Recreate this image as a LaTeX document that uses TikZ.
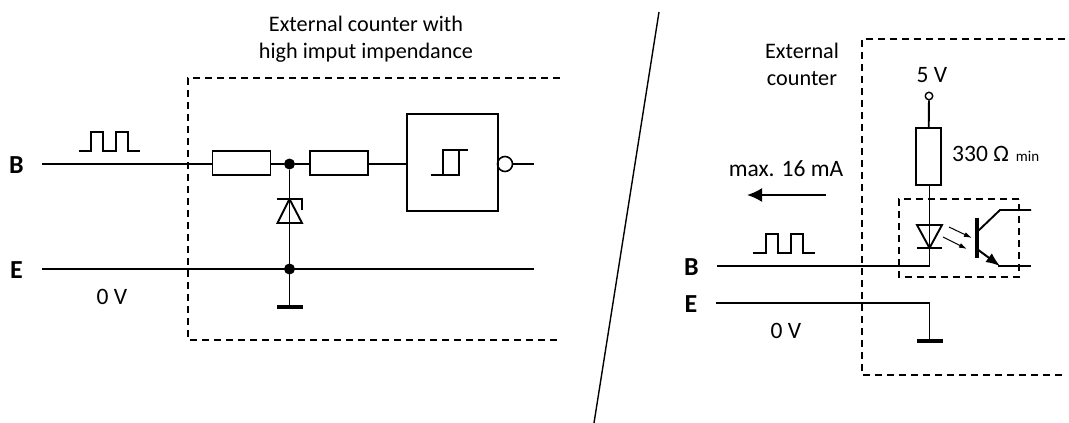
\documentclass[tikz,border=0pt]{standalone}
\usepackage{fontspec}
\setmainfont{Carlito}
\usetikzlibrary{arrows.meta}
\tikzset{
  wire/.style={line width=1.9pt},
  thin wire/.style={line width=1.6pt},
  dashbox/.style={line width=1.6pt,dash pattern=on 7pt off 5pt},
  res/.style={draw,line width=1.9pt,rectangle,inner sep=0pt,fill=white},
  dot/.style={circle,fill=black,inner sep=0pt,minimum size=11pt},
  lbl/.style={inner sep=0pt,font=\fontsize{22.2}{27}\selectfont,align=center},
  lblb/.style={inner sep=0pt,font=\fontsize{23.5}{27}\selectfont,align=center},
  term/.style={inner sep=0pt,font=\fontsize{26}{28}\selectfont\bfseries},
  gnd/.style={line width=4.2pt},
}
\begin{document}
\begin{tikzpicture}[x=1pt,y=-1pt]
\useasboundingbox (0,0) rectangle (1069,423);
% divider
\coordinate (dt) at (659,12); \coordinate (db) at (594,423);
\draw[line width=1.4pt] (dt) -- (db);
% ---- left
\coordinate (l1) at (188,78);\coordinate (l2) at (560,78);\coordinate (l3) at (188,340);\coordinate (l4) at (560,340);
\draw[dashbox] (l2) -- (l1) -- (l3) -- (l4);
\node[lbl] (ltxt) at (366,39.5) {External counter with\\high imput impendance};
\node[term] (bl) at (16.5,165) {B};
\node[term] (el) at (16.5,270) {E};
\node[lblb] (zl) at (112,297) {0 V};
\coordinate (bs) at (42,164);
\coordinate (es) at (42,269);
\coordinate (ee) at (534,269);
\node[res,minimum width=58pt,minimum height=24pt] (r1) at (241.5,163) {};
\node[res,minimum width=58pt,minimum height=24pt] (r2) at (339,163) {};
\node[res,minimum width=91pt,minimum height=97pt] (gate) at (452.5,162.5) {};
\node[dot] (j1) at (289.5,164) {};
\node[dot] (j2) at (289.5,269) {};
\node[draw,circle,line width=1.6pt,minimum size=15pt,inner sep=0pt] (bub) at (505,164) {};
\coordinate (out) at (534,164);
\draw[wire] (bs) -- (r1.west|-bs);
\draw[wire] (r1.east|-j1) -- (j1) -- (r2.west|-j1);
\draw[wire] (r2.east|-j1) -- (gate.west|-j1);
\draw[wire] (bub.east) -- (out);
\draw[thin wire] (es) -- (ee);
% zener
\coordinate (zt) at (289.5,199);\coordinate (zb) at (289.5,223);
\coordinate (gl) at (289.5,307);
\draw[wire] (j1) -- (gl);
\draw[wire,line join=miter] (277.5,223) -- (302,223) -- (zt) -- cycle;
\draw[wire] (277,199) -- (302,199) -- (302,210);
\draw[gnd] (277,307) -- (303,307);
% hysteresis
\draw[wire] (431,175) -- (459,175) -- (459,150);
\draw[wire] (443,175) -- (443,150) -- (468,150);
% pulse
\draw[wire] (79,151) -- (91,151) -- (91,132) -- (103,132) -- (103,151) -- (116,151) -- (116,132) -- (128,132) -- (128,151) -- (140,151);
% ---- right
\coordinate (o1) at (1065,39);\coordinate (o2) at (862,39);\coordinate (o3) at (862,375);\coordinate (o4) at (1065,375);
\draw[dashbox] (o1) -- (o2) -- (o3) -- (o4);
\node[lbl] (extc) at (802,64) {External\\counter};
\node[lblb] (fv) at (932,75) {5 V};
\node[lblb] (ma) at (786,169) {max. 16 mA};
\node[lblb,anchor=west] (ohm) at (952,154) {330 Ω\hspace{7pt}{\fontsize{15}{16}\selectfont min}};
\node[term] (br) at (691.5,267) {B};
\node[term] (er) at (691,304) {E};
\node[lblb] (zr) at (786,331) {0 V};
\node[draw,circle,line width=1.4pt,minimum size=7.5pt,inner sep=0pt] (tm) at (929,96) {};
\node[res,minimum width=25pt,minimum height=57pt] (r3) at (928.5,156.5) {};
\coordinate (dtop) at (929.5,225);
\coordinate (dap) at (929.5,248);
\coordinate (bc) at (929.5,266);
\coordinate (brs) at (717,266);
\draw[wire] (tm) -- (r3);
\draw[wire] (r3.south-|dtop) -- (bc) -- (brs);
\draw[wire] (917,225) -- (942,225) -- (dap) -- cycle;
\draw[wire] (917,248) -- (942,248);
\draw[dashbox] (1019,199) -- (899,199) -- (899,277) -- (1019,277) -- cycle;
\coordinate (ers) at (716,303);\coordinate (erc) at (929.5,303);\coordinate (erg) at (929.5,341);
\draw[thin wire] (ers) -- (erc) -- (erg);
\draw[gnd] (917,341) -- (943,341);
% pulse right
\draw[wire] (753,253) -- (766,253) -- (766,234) -- (778,234) -- (778,253) -- (791,253) -- (791,234) -- (803,234) -- (803,253) -- (815,253);
% current arrow
\coordinate (as) at (826,195);\coordinate (ae) at (747,195);
\draw[line width=2pt,-{Latex[length=15pt,width=14pt]}] (as) -- (ae);
% transistor
\draw[line width=3.6pt] (977,218) -- (977,258);
\draw[wire] (977,232) -- (1000,210) -- (1031,210);
\draw[line width=2pt,-{Latex[length=14pt,width=11pt]}] (977,249) -- (1000,266);
\draw[wire] (998,266) -- (1031,266);
\draw[line width=1pt,-{Latex[length=8pt,width=5pt]}] (949,227) -- (972,238);
\draw[line width=1pt,-{Latex[length=8pt,width=5pt]}] (943,237) -- (967,249);
\end{tikzpicture}
\end{document}
